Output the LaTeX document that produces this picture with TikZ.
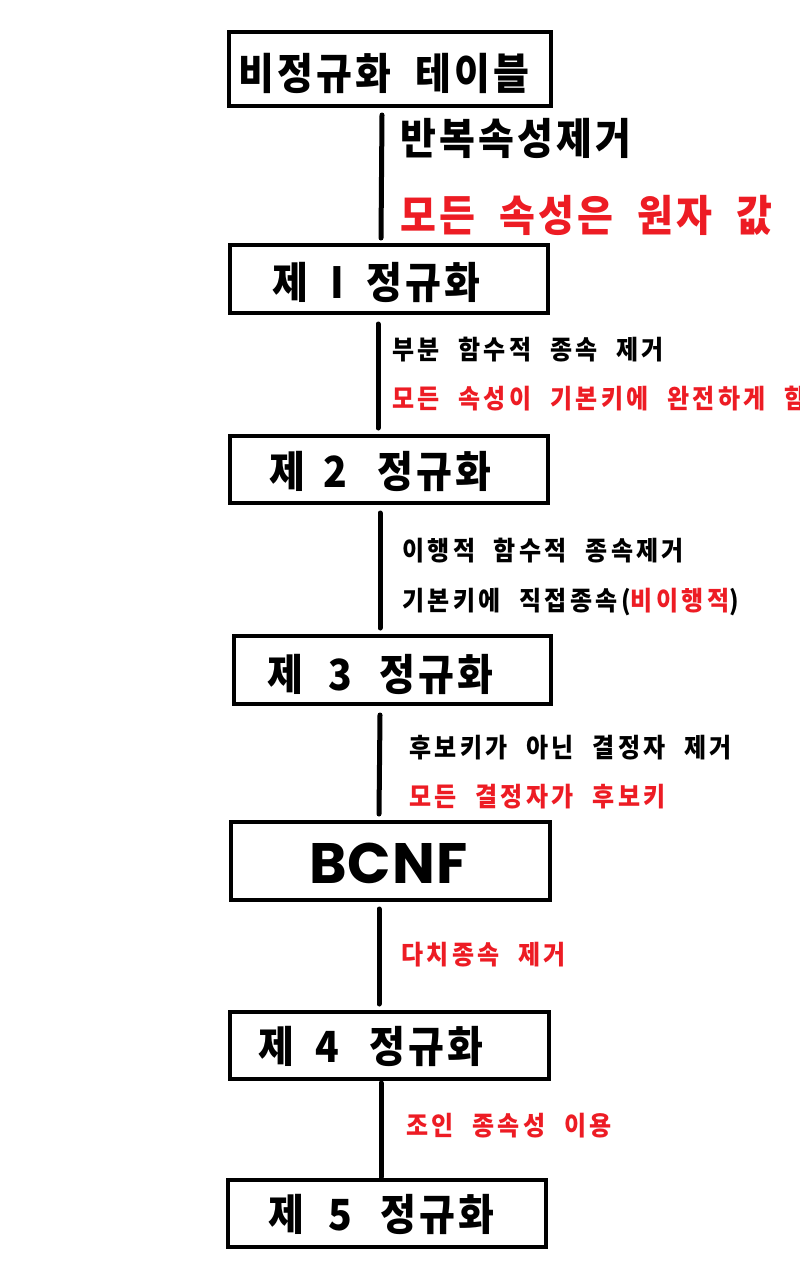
\documentclass[tikz,border=0pt]{standalone}
\usepackage{fontspec}
\setmainfont{Noto Sans CJK KR}
\newfontfamily\popfont{Poppins}
\definecolor{pred}{RGB}{237,28,36}
\newcommand\kb[1]{\scalebox{1}[1.1]{#1}}
\newcommand\gapS{\hspace{0.78em}}
\newcommand\gapB{\hspace{0.62em}}
\begin{document}
\begin{tikzpicture}[x=1pt,y=-1pt,
  box/.style={draw, line width=4pt, inner sep=0pt},
  big/.style={anchor=west, inner sep=0pt, font=\fontsize{39}{42}\selectfont\bfseries\addfontfeatures{LetterSpace=8}},
  small/.style={anchor=west, inner sep=0pt, font=\fontsize{24}{27}\selectfont\bfseries\addfontfeatures{LetterSpace=14}},
  redtxt/.style={text=pred},
  conn/.style={line width=5pt, line cap=round}]
\useasboundingbox[fill=white] (0,0) rectangle (800,1274);

% boxes
\node[box, minimum width=322pt, minimum height=74pt] (b1) at (390,69) {};
\node[box, minimum width=318pt, minimum height=68pt] (b2) at (389,279) {};
\node[box, minimum width=318pt, minimum height=67pt] (b3) at (389,469.5) {};
\node[box, minimum width=317pt, minimum height=68pt] (b4) at (392.5,670) {};
\node[box, minimum width=319pt, minimum height=78pt] (b5) at (390.5,861) {};
\node[box, minimum width=319pt, minimum height=67pt] (b6) at (389.5,1045.5) {};
\node[box, minimum width=318pt, minimum height=67pt] (b7) at (387,1213.5) {};

% box titles
\node[big] (t1) at (238,73) {\kb{비정규화\gapB 테이블}};
\node[big] (t2) at (272,282) {\kb{제\hspace{22pt}I\hspace{23pt}정규화}};
\node[big] (t3) at (269,471) {\kb{제\hspace{18pt}2\hspace{31pt}정규화}};
\node[big] (t4) at (267,674) {\kb{제\hspace{25pt}3\hspace{28pt}정규화}};
\node[anchor=west, inner sep=0pt, font=\popfont\bfseries\fontsize{57}{60}\selectfont] (t5) at (309,863) {B\hspace{1pt}C\hspace{1pt}N\hspace{1pt}F};
\node[big] (t6) at (258,1046) {\kb{제\hspace{21pt}4\hspace{31pt}정규화}};
\node[big] (t7) at (268,1214) {\kb{제\hspace{24pt}5\hspace{29pt}정규화}};

% labels
\node[big] (l1a) at (400,138) {\kb{반복속성제거}};
\node[big, redtxt] (l1b) at (400,215) {\kb{모든\gapB 속성은\gapB 원자\gapB 값}};
\node[small] (l2a) at (392,350) {\kb{부분\gapS 함수적\gapS 종속\gapS 제거}};
\node[small, redtxt] (l2b) at (392,399) {\kb{모든\gapS 속성이\gapS 기본키에\gapS 완전하게\gapS 함}};
\node[small] (l3a) at (402,551) {\kb{이행적\gapS 함수적\gapS 종속제거}};
\node[small] (l3b) at (402,602) {\kb{기본키에\gapS 직접종속(\textcolor{pred}{비이행적})}};
\node[small] (l4a) at (409,748) {\kb{후보키가\gapS 아닌\gapS 결정자\gapS 제거}};
\node[small, redtxt] (l4b) at (409,797) {\kb{모든\gapS 결정자가\gapS 후보키}};
\node[small, redtxt] (l5) at (401,955) {\kb{다치종속\gapS 제거}};
\node[small, redtxt] (l6) at (406,1126) {\kb{조인\gapS 종속성\gapS 이용}};

% connectors
\draw[conn] ([xshift=-8pt,yshift=-7pt]b1.south) -- ([xshift=-8pt,yshift=5pt]b2.north);
\draw[conn] ([xshift=-11pt,yshift=-9pt]b2.south) -- ([xshift=-11pt,yshift=6pt]b3.north);
\draw[conn] ([xshift=-9pt,yshift=-8pt]b3.south) -- ([xshift=-12.5pt,yshift=6pt]b4.north);
\draw[conn] ([xshift=-12.5pt,yshift=-9pt]b4.south) -- ([xshift=-11.5pt,yshift=6pt]b5.north);
\draw[conn] ([xshift=-11.5pt,yshift=-7pt]b5.south) -- ([xshift=-10.5pt,yshift=6pt]b6.north);
\draw[conn] ([xshift=-8.5pt,yshift=-2pt]b6.south) -- ([xshift=-6pt,yshift=1pt]b7.north);
\end{tikzpicture}
\end{document}
